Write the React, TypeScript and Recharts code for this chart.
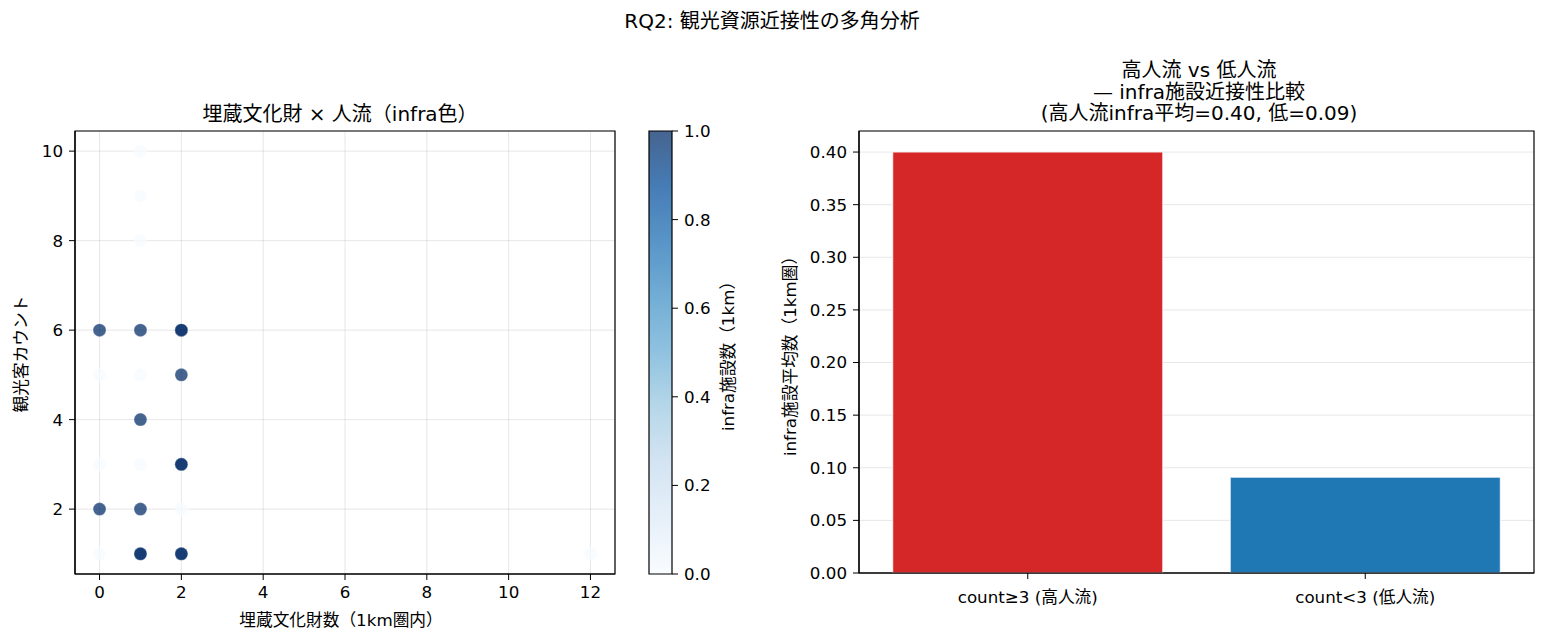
import React from "react";
import { ScatterChart, Scatter, XAxis, YAxis, CartesianGrid, BarChart, Bar, Cell, ReferenceArea } from "recharts";

// scatter: 埋蔵文化財数 (x), 観光客カウント (y), infra施設数 (colour)
const heritageCounts = [1, 1, 1, 0, 1, 0, 1, 2, 0, 12, 0, 1, 2, 2, 2, 1, 2, 2, 0, 1, 1, 1, 2, 2];
const visitorCounts = [10, 9, 8, 5, 5, 3, 3, 2, 1, 1, 6, 6, 6, 6, 5, 4, 3, 3, 2, 2, 1, 1, 1, 1];
const infraCounts = [0, 0, 0, 0, 0, 0, 0, 0, 0, 0, 1, 1, 1, 1, 1, 1, 1, 1, 1, 1, 1, 1, 1, 1];

const scatterXTicks = [0, 2, 4, 6, 8, 10, 12];
const scatterYTicks = [2, 4, 6, 8, 10];
const colorbarTicks = [0, 0.2, 0.4, 0.6, 0.8, 1];

// bar: infra施設平均数 by group
const groupLabels = ["count≥3 (高人流)", "count<3 (低人流)"];
const infraMeans = [0.4, 0.091];
const barYTicks = [0, 0.05, 0.1, 0.15, 0.2, 0.25, 0.3, 0.35, 0.4];

const barColors = ["#d62728", "#1f77b4"];
const BLUES = ["#f7fbff", "#deebf7", "#c6dbef", "#9ecae1", "#6baed6", "#4292c6", "#2171b5", "#08519c", "#08306b"];
const FONT = '"DejaVu Sans", "Noto Sans CJK JP", sans-serif';
const GRID = "#b0b0b0";

function blues(v: number) {
  const t = Math.max(0, Math.min(1, v)) * (BLUES.length - 1);
  const i = Math.min(Math.floor(t), BLUES.length - 2);
  const f = t - i;
  const a = BLUES[i], b = BLUES[i + 1];
  const ch = (h: string, k: number) => parseInt(h.slice(1 + 2 * k, 3 + 2 * k), 16);
  const c = [0, 1, 2].map((k) => Math.round(ch(a, k) + (ch(b, k) - ch(a, k)) * f));
  return `rgb(${c[0]},${c[1]},${c[2]})`;
}

const points = heritageCounts.map((x, i) => ({ x, y: visitorCounts[i], infra: infraCounts[i] }));
const barRows = groupLabels.map((group, i) => ({ group, mean: infraMeans[i] }));
const colorbarRows = [{ k: "cb", v: 1 }];

const tickStyle = { fill: "#000", fontSize: 16.7, fontFamily: FONT };
const axisLine = { stroke: "#000", strokeWidth: 1.2 };
const tickLine = { stroke: "#000", strokeWidth: 1 };

const renderDot = (p: any) => (
  <circle cx={p.cx} cy={p.cy} r={6.5} fill={blues(p.payload.infra)} fillOpacity={0.75} stroke="#fff" strokeOpacity={0.6} strokeWidth={0.5} />
);

function Text({ x, y, size, rotate, children }: { x: number; y: number; size: number; rotate?: boolean; children: React.ReactNode }) {
  return (
    <div
      style={{
        position: "absolute",
        left: x,
        top: y,
        transform: `translate(-50%, -50%)${rotate ? " rotate(-90deg)" : ""}`,
        fontSize: size,
        lineHeight: 1,
        whiteSpace: "nowrap",
        fontFamily: FONT,
        color: "#000",
      }}
    >
      {children}
    </div>
  );
}

export default function App() {
  return (
    <div style={{ position: "absolute", left: 0, top: 0, width: 1546, height: 643, background: "#fff", fontFamily: FONT }}>
      <Text x={772} y={21} size={20}>RQ2: 観光資源近接性の多角分析</Text>

      {/* left: scatter */}
      <div style={{ position: "absolute", left: 0, top: 0 }}>
        <ScatterChart width={640} height={643} margin={{ top: 131, right: 25, bottom: 19, left: 0 }}>
          <CartesianGrid stroke={GRID} strokeOpacity={0.3} />
          <XAxis type="number" dataKey="x" domain={[-0.6, 12.6]} ticks={scatterXTicks} allowDataOverflow height={50}
            tick={tickStyle} axisLine={axisLine} tickLine={tickLine} tickSize={6} tickMargin={6} />
          <YAxis type="number" dataKey="y" domain={[0.55, 10.45]} ticks={scatterYTicks} allowDataOverflow width={75}
            tick={tickStyle} axisLine={axisLine} tickLine={tickLine} tickSize={6} tickMargin={6} />
          <ReferenceArea x1={-0.6} x2={12.6} y1={0.55} y2={10.45} fill="none" stroke="#000" strokeWidth={1.2} ifOverflow="visible" />
          <Scatter data={points} shape={renderDot} isAnimationActive={false} />
        </ScatterChart>
      </div>
      <Text x={340} y={114} size={20}>埋蔵文化財 × 人流（infra色）</Text>
      <Text x={341} y={620} size={16.7}>埋蔵文化財数（1km圏内）</Text>
      <Text x={21} y={354} size={16.7} rotate>観光客カウント</Text>

      {/* colorbar */}
      <div style={{ position: "absolute", left: 620, top: 0 }}>
        <BarChart width={140} height={643} data={colorbarRows} margin={{ top: 131, right: 0, bottom: 69, left: 29 }} barCategoryGap={0}>
          <defs>
            <linearGradient id="cbGrad" x1="0" y1="1" x2="0" y2="0">
              {BLUES.map((c, i) => (
                <stop key={i} offset={`${(i / (BLUES.length - 1)) * 100}%`} stopColor={c} stopOpacity={0.75} />
              ))}
            </linearGradient>
          </defs>
          <XAxis dataKey="k" hide />
          <YAxis orientation="right" domain={[0, 1]} ticks={colorbarTicks} width={88} tickFormatter={(v: number) => v.toFixed(1)}
            tick={tickStyle} axisLine={false} tickLine={tickLine} tickSize={6} tickMargin={6} />
          <Bar dataKey="v" fill="url(#cbGrad)" stroke="#000" strokeWidth={1.2} isAnimationActive={false} />
        </BarChart>
      </div>
      <Text x={728} y={352} size={16.7} rotate>infra施設数（1km）</Text>

      {/* right: bars */}
      <div style={{ position: "absolute", left: 770, top: 0 }}>
        <BarChart width={776} height={643} data={barRows} margin={{ top: 131, right: 12, bottom: 30, left: 0 }} barCategoryGap="10%">
          <XAxis dataKey="group" height={40} tick={tickStyle} axisLine={axisLine} tickLine={tickLine} tickSize={6} tickMargin={12} />
          <YAxis type="number" domain={[0, 0.42]} ticks={barYTicks} allowDataOverflow width={89} tickFormatter={(v: number) => v.toFixed(2)}
            tick={tickStyle} axisLine={axisLine} tickLine={tickLine} tickSize={6} tickMargin={6} />
          <Bar dataKey="mean" stroke="#fff" strokeWidth={0.8} isAnimationActive={false}>
            {barRows.map((r, i) => (
              <Cell key={r.group} fill={barColors[i]} />
            ))}
          </Bar>
          <CartesianGrid vertical={false} stroke={GRID} strokeOpacity={0.3} />
          <ReferenceArea y1={0} y2={0.42} fill="none" stroke="#000" strokeWidth={1.2} ifOverflow="visible" />
        </BarChart>
      </div>
      <Text x={1199} y={70} size={20}>高人流 vs 低人流</Text>
      <Text x={1199} y={92} size={20}>— infra施設近接性比較</Text>
      <Text x={1199} y={113} size={20}>(高人流infra平均=0.40, 低=0.09)</Text>
      <Text x={790} y={352} size={16.7} rotate>infra施設平均数（1km圏）</Text>
    </div>
  );
}
